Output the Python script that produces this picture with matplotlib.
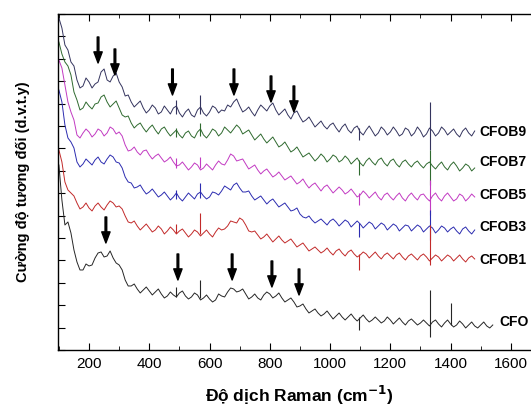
# -*- coding: utf-8 -*-
import numpy as np
import matplotlib
matplotlib.use('Agg')
import matplotlib.pyplot as plt
from matplotlib.ticker import MultipleLocator

plt.rcParams['font.family'] = ['Liberation Sans', 'DejaVu Sans']

# Raman shift grid (cm^-1); intensities (arb. units)
shift = list(range(100, 1481, 20))
shift_cfo = list(range(100, 1541, 20))

cfob9 = [332, 305, 288, 270, 264, 268, 266, 278, 270, 274, 268, 254, 248, 246, 242,
         240, 242, 238, 240, 242, 237, 238, 235, 240, 237, 238, 242, 240, 245, 248,
         244, 240, 238, 240, 242, 244, 240, 238, 235, 237, 233, 230, 228, 226, 224,
         225, 222, 223, 220, 222, 218, 220, 219, 217, 220, 218, 219, 216, 220, 217,
         219, 216, 219, 217, 220, 218, 216, 219, 217, 219]
cfob9_mid = [322, 300, 284, 262, 272, 262, 268, 281, 268, 277, 263, 255, 243, 249, 237,
             245, 236, 244, 236, 244, 233, 241, 233, 243, 234, 244, 237, 239, 243, 251,
             238, 243, 234, 245, 239, 247, 235, 241, 231, 239, 228, 233, 223, 229, 221,
             227, 218, 226, 217, 224, 215, 224, 214, 223, 215, 223, 214, 222, 214, 223,
             213, 222, 214, 223, 215, 221, 213, 222, 214]

cfob7 = [308, 288, 275, 250, 242, 244, 246, 253, 248, 246, 242, 233, 227, 225, 222,
         222, 220, 221, 218, 217, 215, 217, 214, 218, 215, 216, 219, 217, 220, 221,
         222, 218, 215, 213, 211, 210, 208, 205, 203, 200, 198, 195, 193, 192, 193,
         191, 193, 190, 191, 189, 187, 189, 188, 190, 187, 189, 186, 188, 186, 187,
         185, 186, 184, 185, 183, 185, 184, 182, 184, 182]
cfob7_mid = [296, 284, 258, 240, 248, 241, 247, 255, 243, 249, 235, 234, 222, 227, 218,
             225, 216, 223, 214, 220, 212, 219, 212, 221, 212, 221, 214, 223, 217, 225,
             216, 220, 210, 216, 207, 213, 203, 208, 198, 203, 193, 197, 189, 196, 188,
             195, 188, 194, 186, 192, 184, 192, 185, 192, 184, 191, 183, 190, 183, 189,
             182, 188, 181, 188, 180, 188, 179, 186, 179]

cfob5 = [290, 265, 238, 215, 217, 218, 216, 219, 217, 221, 218, 205, 200, 198, 199,
         195, 194, 192, 190, 188, 185, 184, 183, 185, 182, 183, 185, 186, 190, 194,
         190, 186, 183, 180, 179, 177, 175, 174, 172, 170, 168, 166, 165, 163, 163,
         161, 160, 160, 158, 157, 155, 156, 155, 153, 155, 153, 154, 152, 154, 153,
         155, 152, 154, 152, 154, 153, 151, 154, 152, 153]
cfob5_mid = [282, 248, 230, 212, 221, 213, 221, 214, 223, 216, 214, 199, 203, 195, 200,
             191, 196, 188, 193, 184, 188, 180, 187, 180, 186, 180, 189, 185, 196, 189,
             191, 181, 185, 176, 181, 173, 178, 170, 174, 166, 171, 162, 167, 159, 165,
             157, 163, 156, 161, 153, 159, 152, 158, 150, 157, 150, 157, 149, 157, 150,
             156, 149, 157, 149, 157, 149, 156, 149, 156]

cfob3 = [260, 225, 208, 188, 186, 188, 190, 188, 191, 193, 187, 173, 167, 163, 160,
         158, 157, 155, 154, 153, 152, 153, 154, 156, 154, 153, 157, 159, 162, 165,
         162, 158, 154, 152, 150, 149, 147, 145, 143, 140, 136, 132, 130, 129, 128,
         129, 128, 127, 128, 126, 126, 125, 126, 124, 125, 123, 124, 122, 124, 122,
         123, 121, 122, 120, 122, 121, 119, 121, 119, 120]
cfob3_mid = [248, 212, 202, 183, 191, 185, 193, 186, 195, 188, 182, 168, 162, 165, 156,
             161, 153, 158, 150, 157, 149, 157, 151, 158, 151, 158, 155, 164, 160, 167,
             158, 159, 150, 154, 146, 151, 143, 147, 139, 142, 133, 134, 127, 131, 125,
             131, 124, 130, 123, 129, 122, 128, 121, 127, 120, 126, 119, 125, 119, 125,
             118, 124, 117, 124, 118, 123, 116, 123, 116]

cfob1 = [200, 168, 157, 147, 143, 142, 144, 143, 145, 147, 144, 134, 127, 124, 123,
         122, 120, 121, 119, 120, 119, 117, 116, 118, 117, 116, 118, 120, 124, 128,
         132, 125, 118, 115, 113, 112, 111, 110, 109, 107, 105, 103, 101, 100, 99,
         98, 99, 97, 98, 96, 95, 96, 95, 94, 95, 94, 95, 93, 94, 93,
         94, 93, 92, 93, 92, 93, 92, 91, 92, 91]
cfob1_mid = [188, 160, 154, 141, 147, 139, 147, 140, 149, 143, 141, 128, 129, 120, 126,
             118, 124, 116, 123, 116, 121, 113, 120, 114, 120, 113, 122, 121, 129, 127,
             130, 119, 119, 111, 116, 108, 114, 107, 111, 103, 107, 99, 103, 97, 102,
             95, 101, 94, 100, 93, 98, 92, 98, 91, 97, 91, 97, 90, 96, 90,
             96, 89, 95, 89, 95, 89, 95, 88, 94]

cfo = [185, 125, 117, 88, 80, 84, 92, 98, 94, 92, 85, 70, 64, 61, 60,
       59, 58, 56, 54, 55, 57, 54, 53, 55, 52, 51, 50, 54, 58, 61,
       59, 56, 53, 52, 55, 56, 54, 52, 50, 48, 44, 41, 39, 37, 36,
       35, 34, 33, 33, 32, 32, 31, 30, 30, 29, 30, 29, 28, 29, 28,
       27, 27, 28, 26, 27, 26, 25, 26, 25, 24, 25, 24, 25]
cfo_mid = [150, 128, 100, 80, 86, 85, 97, 93, 99, 87, 80, 64, 66, 57, 63,
           55, 61, 52, 58, 53, 59, 51, 57, 50, 55, 48, 56, 53, 62, 58,
           61, 51, 56, 50, 58, 52, 57, 48, 52, 43, 46, 37, 41, 34, 39,
           31, 37, 30, 36, 29, 35, 28, 33, 27, 33, 26, 32, 25, 31, 25,
           30, 24, 30, 23, 30, 23, 29, 22, 28, 22, 28, 22]

# sharp lines: (shift, low, high)
spikes9 = [(490, 236, 250), (568, 236, 255), (1095, 210, 222), (1332, 200, 248)]
spikes7 = [(490, 213, 222), (568, 214, 227), (1095, 175, 190), (1332, 165, 200)]
spikes5 = [(490, 182, 192), (568, 182, 193), (1095, 145, 157), (1332, 135, 170)]
spikes3 = [(490, 151, 160), (568, 152, 167), (1095, 113, 127), (1332, 110, 140)]
spikes1 = [(490, 117, 126), (568, 116, 137), (1095, 80, 96), (1332, 85, 125)]
spikes0 = [(490, 53, 63), (568, 52, 70), (1095, 20, 33), (1332, 13, 60), (1400, 25, 47)]

names = ['CFOB9', 'CFOB7', 'CFOB5', 'CFOB3', 'CFOB1', 'CFO']
colors = ['#34345e', '#2f6a2f', '#c23ac2', '#2c2cb0', '#c22a2a', '#262626']
label_y = [218, 188, 155, 123, 90, 28]
label_x = [1497, 1497, 1497, 1497, 1497, 1562]

# arrows: (shift, tip)
arrows_top = [(230, 287), (286, 275), (477, 255), (681, 255), (804, 248), (880, 238)]
arrows_bot = [(256, 107), (495, 70), (675, 70), (807, 63), (897, 55)]


def interleave(xs, ys, mids):
    px, py = [], []
    for i in range(len(xs)):
        px.append(xs[i]); py.append(ys[i])
        if i < len(mids):
            px.append(xs[i] + 10); py.append(mids[i])
    return px, py


fig = plt.figure(figsize=(5.31, 4.09), dpi=100)
ax = fig.add_axes([0.1092, 0.1443, 0.9096, 0.8215])

series = [(shift, cfob9, cfob9_mid, spikes9), (shift, cfob7, cfob7_mid, spikes7),
          (shift, cfob5, cfob5_mid, spikes5), (shift, cfob3, cfob3_mid, spikes3),
          (shift, cfob1, cfob1_mid, spikes1), (shift_cfo, cfo, cfo_mid, spikes0)]
for (xs, ys, mids, sp), c, n, lx, ly in zip(series, colors, names, label_x, label_y):
    px, py = interleave(xs, ys, mids)
    ax.plot(px, py, color=c, lw=0.7)
    for sx, lo, hi in sp:
        ax.vlines(sx, lo, hi, color=c, lw=0.8)
    ax.text(lx, ly, n, fontsize=10, fontweight='bold', va='center', ha='left')

for x, tip in arrows_top + arrows_bot:
    ax.annotate('', xy=(x, tip), xytext=(x, tip + 26),
                arrowprops=dict(facecolor='black', edgecolor='black', width=1.2,
                                headwidth=6, headlength=8))

ax.set_xlim(97, 1700)
ax.set_ylim(0, 336)
ax.xaxis.set_major_locator(MultipleLocator(200))
ax.xaxis.set_minor_locator(MultipleLocator(100))
ax.yaxis.set_major_locator(MultipleLocator(22.4))
ax.tick_params(axis='both', which='both', direction='in', top=True)
ax.tick_params(axis='x', which='major', length=5, labelsize=11, pad=5)
ax.tick_params(axis='x', which='minor', length=3)
ax.tick_params(axis='y', length=5, labelleft=False)
for s in ax.spines.values():
    s.set_linewidth(1.0)

ax.set_xlabel('Độ dịch Raman (cm$^{\\mathbf{-1}}$)', fontsize=12.5, fontweight='bold', labelpad=9)
fig.text(0.043, 0.555, 'Cường độ tương đối (d.v.t.y)', rotation=90, fontsize=10.5,
         fontweight='bold', ha='center', va='center')

plt.savefig('out.png', dpi=100)
